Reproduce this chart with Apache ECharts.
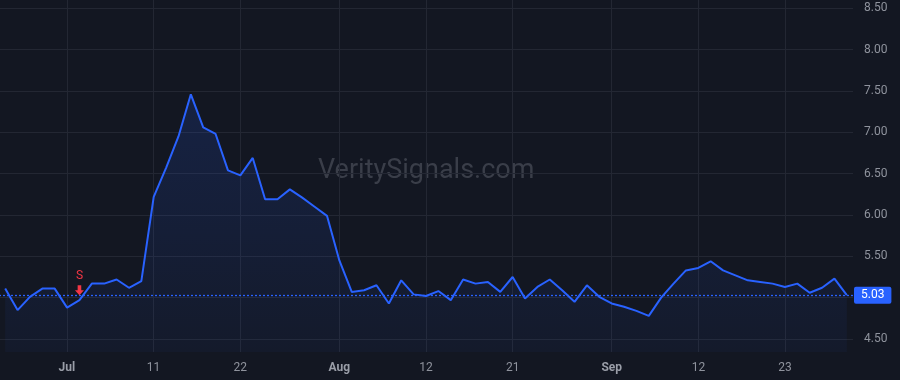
<!DOCTYPE html>
<html>
<head>
<meta charset="utf-8">
<script src="https://cdn.jsdelivr.net/npm/echarts@6/dist/echarts.min.js"></script>
<style>
html,body{margin:0;padding:0;background:#131722;}
#chart{width:900px;height:380px;}
</style>
</head>
<body>
<div id="chart"></div>
<script>
var categories = [
  'Jun 24','Jun 25','Jun 26','Jun 27','Jun 28',
  'Jul 1','Jul 2','Jul 3','Jul 5','Jul 8','Jul 9','Jul 10','Jul 11','Jul 12','Jul 15','Jul 16','Jul 17','Jul 18','Jul 19',
  'Jul 22','Jul 23','Jul 24','Jul 25','Jul 26','Jul 29','Jul 30','Jul 31',
  'Aug 1','Aug 2','Aug 5','Aug 6','Aug 7','Aug 8','Aug 9','Aug 12','Aug 13','Aug 14','Aug 15','Aug 16','Aug 19','Aug 20',
  'Aug 21','Aug 22','Aug 23','Aug 26','Aug 27','Aug 28','Aug 29','Aug 30',
  'Sep 3','Sep 4','Sep 5','Sep 6','Sep 9','Sep 10','Sep 11','Sep 12','Sep 13','Sep 16','Sep 17','Sep 18','Sep 19','Sep 20',
  'Sep 23','Sep 24','Sep 25','Sep 26','Sep 27','Sep 30'
];
var values = [
  5.11, 4.85, 5.01, 5.11, 5.11,
  4.88, 4.97, 5.17, 5.17, 5.22, 5.12, 5.20, 6.22, 6.57, 6.95, 7.46, 7.06, 6.98, 6.54,
  6.48, 6.69, 6.19, 6.19, 6.31, 6.21, 6.10, 5.99,
  5.45, 5.07, 5.09, 5.15, 4.93, 5.21, 5.04, 5.02, 5.08, 4.97, 5.22, 5.17, 5.19, 5.07,
  5.25, 4.99, 5.13, 5.22, 5.09, 4.95, 5.15, 5.01,
  4.93, 4.89, 4.84, 4.78, 5.00, 5.17, 5.33, 5.36, 5.44, 5.33, 5.27, 5.21, 5.19, 5.17,
  5.13, 5.17, 5.06, 5.12, 5.23, 5.03
];
var xTickDates = ['Jul 1','Jul 11','Jul 22','Aug 1','Aug 12','Aug 21','Sep 3','Sep 12','Sep 23'];
var xTickLabels = ['Jul','11','22','Aug','12','21','Sep','12','23'];
var monthLabels = ['Jul','Aug','Sep'];
var yTicks = [4.5, 5.5, 6.0, 6.5, 7.0, 7.5, 8.0, 8.5];
var lastValue = 5.03;
var signalDates = ['Jul 2'];
var signalLabels = ['S'];

var FONT = 'Roboto, "Liberation Sans", sans-serif';
var GRID = '#232733';
var LABEL = '#8f939d';
var BLUE = '#2962ff';

function isXTick(idx){ return xTickDates.indexOf(categories[idx]) >= 0; }

var chart = echarts.init(document.getElementById('chart'), null, {renderer:'canvas'});
chart.setOption({
  backgroundColor: '#131722',
  animation: false,
  textStyle: { fontFamily: FONT },
  graphic: [{
    type: 'text', left: 318, top: 158, z: 0, silent: true,
    style: { text: 'VeritySignals.com', fill: '#3a3e49', font: '27px ' + FONT }
  }],
  grid: [
    { left: -1, right: 47, top: -33.04, height: 413.4, outerBoundsMode: 'none', containLabel: false },
    { left: 5, right: 53, top: 0, height: 352, outerBoundsMode: 'none', containLabel: false }
  ],
  xAxis: [
    { gridIndex: 0, type: 'category', data: categories, boundaryGap: true, show: false },
    { gridIndex: 1, type: 'category', data: categories, boundaryGap: false,
      axisLine: { show: false }, axisTick: { show: false },
      axisLabel: {
        interval: function(i){ return isXTick(i); },
        margin: 10, fontSize: 12, color: LABEL, fontFamily: FONT,
        formatter: function(v){
          var k = xTickDates.indexOf(v);
          if (k < 0) return '';
          var t = xTickLabels[k];
          return monthLabels.indexOf(t) >= 0 ? '{m|' + t + '}' : t;
        },
        rich: { m: { fontWeight: 'bold', fontSize: 12, color: '#9a9ea8', fontFamily: FONT } }
      },
      splitLine: { show: true, interval: function(i){ return isXTick(i); }, lineStyle: { color: GRID, width: 1 } }
    }
  ],
  yAxis: [
    { gridIndex: 0, type: 'value', position: 'right', min: 4, max: 9, interval: 0.5,
      axisLine: { show: false }, axisTick: { show: false },
      axisLabel: {
        margin: 11, fontSize: 12, color: LABEL, fontFamily: FONT,
        formatter: function(v){
          for (var k = 0; k < yTicks.length; k++) { if (Math.abs(yTicks[k] - v) < 1e-6) return v.toFixed(2); }
          return '';
        }
      },
      splitLine: { show: true, lineStyle: { color: GRID, width: 1 } }
    },
    { gridIndex: 1, type: 'value', show: false, min: 4.3427, max: 8.6004, splitLine: { show: false } }
  ],
  series: [{
    type: 'line',
    xAxisIndex: 0, yAxisIndex: 0,
    data: values,
    symbol: 'none',
    lineStyle: { color: BLUE, width: 2 },
    itemStyle: { color: BLUE },
    areaStyle: {
      origin: 4.3427,
      color: new echarts.graphic.LinearGradient(0, 0, 0, 1, [
        { offset: 0, color: 'rgba(41,98,255,0.22)' },
        { offset: 1, color: 'rgba(41,98,255,0.06)' }
      ])
    },
    z: 3,
    markLine: {
      silent: true, symbol: 'none', animation: false, z: 5,
      lineStyle: { color: BLUE, type: [2, 2], width: 1.3, opacity: 1 },
      emphasis: { disabled: true },
      label: {
        show: true, position: 'end', distance: 1,
        formatter: function(){ return lastValue.toFixed(2); },
        color: '#ffffff', backgroundColor: BLUE, borderRadius: 2,
        padding: [3, 7, 2, 7], fontSize: 12, fontFamily: FONT
      },
      data: [{ yAxis: lastValue, lineStyle: { color: BLUE, type: [2, 2], width: 1.3, opacity: 1 } }]
    },
    markPoint: {
      silent: true, animation: false,
      symbol: 'path://M3,0 L7,0 L7,5 L10,5 L5,10 L0,5 L3,5 Z',
      symbolSize: [9, 10],
      symbolOffset: [0, -10],
      itemStyle: { color: '#f23645' },
      label: {
        show: true, position: 'top', distance: 3, color: '#f23645',
        fontSize: 12, fontFamily: FONT,
        formatter: function(p){ return p.name; }
      },
      data: signalDates.map(function(d, k){
        return { name: signalLabels[k], coord: [d, values[categories.indexOf(d)]] };
      })
    }
  }]
});
</script>
</body>
</html>
